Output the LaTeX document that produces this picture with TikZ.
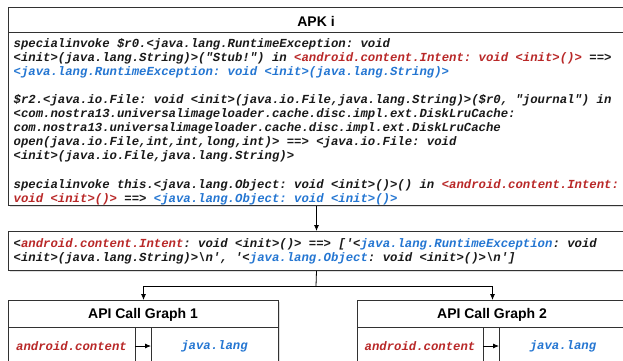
\documentclass[tikz,border=0pt]{standalone}
\usepackage{fontspec}
\setmainfont{Liberation Sans}
\setmonofont{Liberation Mono}
\usetikzlibrary{arrows.meta,shadows}
\definecolor{cred}{RGB}{185,40,40}
\definecolor{cblue}{RGB}{36,118,210}
\definecolor{edgec}{RGB}{50,50,50}
\newcommand\codefont{\fontsize{12.3}{14.1}\selectfont\ttfamily\bfseries\itshape}
\newcommand\cR[1]{\textcolor{cred}{#1}}
\newcommand\cB[1]{\textcolor{cblue}{#1}}
\begin{document}
\begin{tikzpicture}[x=1pt,y=-1pt,
 box/.style={draw=edgec, line width=1pt, fill=white, anchor=north west, inner sep=0pt,
   drop shadow={opacity=0.25,shadow xshift=1pt,shadow yshift=-1pt}},
 code/.style={font=\codefont, align=left, anchor=north west, inner sep=0pt, text=black!90},
 ttl/.style={font=\fontsize{14}{16}\selectfont\bfseries, inner sep=0pt},
 arr/.style={draw=black, line width=0.8pt, -{Latex[length=6pt,width=5pt]}},
 sep/.style={draw=edgec, line width=1pt}]
\useasboundingbox (0,0) rectangle (623,360);
\clip (0,0) rectangle (623,360);

% top box
\node[box, minimum width=616pt, minimum height=198pt] (apk) at (8,7) {};
\node[ttl] (apkt) at (316,21) {APK i};
\draw[sep] ([yshift=-25.5pt]apk.north west) -- ([yshift=-25.5pt]apk.north east);

\node[code] (p1) at (13.5,37.1) {\strut specialinvoke \$r0.<java.lang.RuntimeException: void\\
<init>(java.lang.String)>("Stub!") in \cR{<android.content.Intent: void <init>()>} ==>\\
\cB{<java.lang.RuntimeException: void <init>(java.lang.String)>}};

\node[code] (p2) at (13.5,93.5) {\strut \$r2.<java.io.File: void <init>(java.io.File,java.lang.String)>(\$r0, "journal") in\\
<com.nostra13.universalimageloader.cache.disc.impl.ext.DiskLruCache:\\
com.nostra13.universalimageloader.cache.disc.impl.ext.DiskLruCache\\
open(java.io.File,int,int,long,int)> ==> <java.io.File: void\\
<init>(java.io.File,java.lang.String)>};

\node[code] (p3) at (13.5,178.1) {\strut specialinvoke this.<java.lang.Object: void <init>()>() in \cR{<android.content.Intent:}\\
\cR{void <init>()>} ==> \cB{<java.lang.Object: void <init>()>}};

% result box
\node[box, minimum width=616pt, minimum height=39pt] (res) at (8,231) {};
\node[code] (r1) at (13.5,237.8) {\strut <\cR{android.content.Intent}: void <init>()> ==> ['<\cB{java.lang.RuntimeException}: void\\
<init>(java.lang.String)>\textbackslash n', '<\cB{java.lang.Object}: void <init>()>\textbackslash n']};

% graph boxes
\node[box, minimum width=270pt, minimum height=80pt] (g1) at (8,300) {};
\node[box, minimum width=270pt, minimum height=80pt] (g2) at (357,300) {};
\node[ttl] (g1t) at (143,315) {API Call Graph 1};
\node[ttl] (g2t) at (492,315) {API Call Graph 2};
\draw[sep] ([yshift=-27pt]g1.north west) -- ([yshift=-27pt]g1.north east);
\draw[sep] ([yshift=-27pt]g2.north west) -- ([yshift=-27pt]g2.north east);
\draw[sep] (135,327) -- (135,380);
\draw[sep] (151,327) -- (151,380);
\draw[sep] (483,327) -- (483,380);
\draw[sep] (499,327) -- (499,380);

\node[code, anchor=center, align=center] (g1a) at (71.5,346.5) {\cR{android.content}};
\node[code, anchor=center, align=center] (g1b) at (214.5,346.5) {\cB{java.lang}};
\node[code, anchor=center, align=center] (g2a) at (420,346.5) {\cR{android.content}};
\node[code, anchor=center, align=center] (g2b) at (563,346.5) {\cB{java.lang}};

\coordinate (a1s) at (135,346);
\coordinate (a1e) at (151,346);
\coordinate (a2s) at (483,346);
\coordinate (a2e) at (499,346);
\draw[arr] (a1s) -- (a1e);
\draw[arr] (a2s) -- (a2e);

% connectors
\draw[arr] (apk.south) -- (res.north);
\coordinate (split) at (316,286);
\draw[line width=0.8pt] (res.south) -- (split);
\draw[arr] (split) -| (g1.north);
\draw[arr] (split) -| (g2.north);
\end{tikzpicture}
\end{document}
